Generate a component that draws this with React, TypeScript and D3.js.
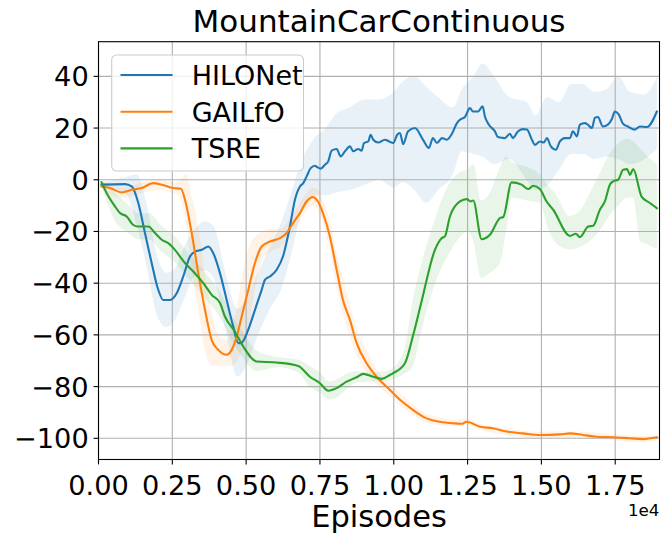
import React from 'react';
import * as d3 from 'd3';

const W = 672;
const H = 533;

const TITLE = 'MountainCarContinuous';
const X_LABEL = 'Episodes';
const X_OFFSET = '1e4';
const SERIES_NAMES = ['HILONet', 'GAILfO', 'TSRE'];
const SERIES_COLORS = ['#1f77b4', '#ff7f0e', '#2ca02c'];

const xTicks = [0, 2500, 5000, 7500, 10000, 12500, 15000, 17500];
const xTickLabels = ['0.00', '0.25', '0.50', '0.75', '1.00', '1.25', '1.50', '1.75'];
const yTicks = [-100, -80, -60, -40, -20, 0, 20, 40];
const yTickLabels = ['\u2212100', '\u221280', '\u221260', '\u221240', '\u221220', '0', '20', '40'];

// [episode, mean]
const hilonetMean: [number, number][] = [
  [100, -1.9], [900, -1.7], [1124, -2.6], [1348, -9], [1574, -20.6], [1801, -32.2], [2025, -42.6],
  [2194, -46.5], [2421, -46.5], [2648, -43.9], [2871, -37.4], [3098, -29.7], [3268, -27.8],
  [3494, -27.1], [3718, -25.8], [3887, -28.4], [4114, -36.1], [4341, -46.5], [4564, -56.8],
  [4734, -63.2], [4849, -63], [5072, -58], [5299, -50.3], [5526, -42.6], [5638, -38.7],
  [5807, -37.4], [6034, -34.8], [6247, -29.7], [6484, -18], [6653, -7.7], [6823, -2.6],
  [6935, -1.3], [7050, 1.3], [7185, 4.5], [7331, 5.4], [7409, 4.9], [7524, 4.3], [7669, 5.8],
  [7781, 7.1], [7896, 11.3], [8066, 11.9], [8201, 9], [8347, 11], [8516, 12.9], [8627, 11],
  [8797, 11.9], [8912, 11.2], [8990, 14.2], [9135, 14.8], [9217, 17.4], [9305, 15.5],
  [9474, 14.4], [9701, 15.5], [9847, 14.8], [9982, 14.2], [10117, 17.4], [10209, 18.1],
  [10320, 13.8], [10480, 18.7], [10717, 20], [10988, 15.5], [11191, 12.3], [11326, 16.1],
  [11462, 14.2], [11631, 16.1], [11801, 15.5], [11970, 17.8], [12140, 21.9], [12241, 23.2],
  [12410, 24.3], [12580, 27.7], [12681, 26.4], [12851, 26.4], [13009, 28.4], [13087, 24.5],
  [13222, 21.3], [13426, 18.7], [13527, 16.5], [13764, 16.1], [13933, 17.8], [14035, 16.1],
  [14204, 18.7], [14373, 19.6], [14509, 19.4], [14678, 15.5], [14780, 13.5], [14949, 14.8],
  [15084, 14.4], [15186, 16.1], [15321, 12.9], [15491, 11.6], [15626, 14.8], [15795, 16.1],
  [15965, 16.1], [16066, 18.7], [16202, 16.8], [16304, 21.3], [16473, 21.9], [16574, 21.3],
  [16710, 20], [16811, 23.9], [16913, 24.3], [17082, 20.6], [17252, 21.3], [17387, 23.5],
  [17489, 26.4], [17624, 25.2], [17760, 21.7], [17929, 20.6], [18166, 19.4], [18336, 20.6],
  [18573, 20.4], [18911, 26.4],
];

// [episode, lower, upper]
const hilonetBand: [number, number, number][] = [
  [100, -3, -1], [900, -5, 1], [1300, -18, 2], [1600, -32, -8], [2000, -53, -30],
  [2300, -57, -36], [2600, -54, -34], [2900, -46, -26], [3200, -38, -20], [3600, -35, -16],
  [3900, -38, -18], [4300, -58, -36], [4700, -76, -50], [5000, -72, -46], [5400, -60, -36],
  [5800, -50, -26], [6200, -42, -16], [6500, -30, -6], [6900, -12, 8], [7300, -6, 16],
  [7700, -6, 20], [8000, -5, 25], [8500, -4, 28], [9000, -2, 31], [9500, 0, 31],
  [10000, -3, 34], [10300, -1, 38], [10700, -4, 40], [11100, -9, 36], [11500, -4, 32],
  [12000, 2, 28], [12300, 11, 35], [12700, 10, 40], [13000, 9, 45], [13400, 6, 40],
  [13900, 8, 32], [14500, 0, 30], [14800, -4, 25], [15200, -2, 32], [15600, 4, 30],
  [16000, 10, 37], [16400, 10, 37], [16800, 8, 34], [17200, 9, 35], [17600, 8, 40],
  [18000, 6, 34], [18500, 8, 33], [18911, 12, 40],
];

const gailfoMean: [number, number][] = [
  [100, -2.6], [389, -3.2], [786, -4.9], [1124, -3.9], [1463, -3.2], [1856, -1.3], [2140, -1.9],
  [2533, -3.2], [2793, -3.5], [2929, -7.7], [3156, -20.6], [3379, -36.1], [3606, -50.3],
  [3833, -62], [4056, -65.8], [4341, -67.7], [4510, -65.8], [4679, -60.7], [4849, -52.9],
  [5072, -42.6], [5299, -32.2], [5526, -25.8], [5807, -23.9], [6145, -22.6], [6373, -20.6],
  [6586, -16.8], [6823, -12.9], [7050, -8.4], [7253, -6.7], [7432, -8.4], [7602, -12.9],
  [7839, -22], [8066, -34.8], [8279, -46.5], [8516, -54.2], [8743, -63.2], [9081, -71],
  [9420, -76.2], [9870, -81.3], [10250, -85.5], [10649, -89], [11113, -92.3], [11563, -93.6],
  [12004, -94.2], [12300, -94.4], [12467, -93.6], [12918, -95.5], [13358, -96.1],
  [13822, -97.4], [14374, -98.1], [14949, -98.7], [15626, -98.5], [15965, -98.1],
  [16405, -98.7], [16869, -99.4], [17421, -99.6], [17997, -100], [18437, -100.3], [18911, -99.6],
];

const gailfoBand: [number, number, number][] = [
  [100, -4, -1], [800, -7, -3], [1500, -5, -1], [2100, -4, 0], [2700, -6, -1], [2950, -16, 2],
  [3150, -34, -6], [3400, -52, -20], [3600, -66, -36], [3850, -72, -52], [4050, -72, -60],
  [4350, -72, -62], [4500, -72, -58], [4700, -70, -48], [4850, -66, -38], [5100, -56, -26],
  [5300, -42, -22], [5550, -31, -20], [5800, -28, -19], [6150, -26, -19], [6600, -20, -13],
  [7050, -12, -5], [7250, -10, -3], [7450, -12, -4], [7600, -17, -8], [7850, -28, -16],
  [8050, -41, -28], [8300, -53, -39], [8500, -60, -48], [8750, -68, -58], [9100, -75, -66],
  [9400, -79, -73], [9900, -84, -79], [10650, -91, -87], [11100, -94, -90.5], [11600, -95, -92],
  [12000, -95.4, -93], [12500, -95, -92.3], [12900, -96.7, -94.3], [13800, -98.6, -96.2],
  [14900, -99.9, -97.5], [15600, -99.7, -97.3], [16400, -99.9, -97.5], [17400, -100.8, -98.4],
  [18400, -101.5, -99.1], [18911, -100.8, -98.4],
];

const tsreMean: [number, number][] = [
  [100, -1], [278, -5.2], [559, -10.3], [728, -12.9], [955, -14.2], [1168, -17.4], [1348, -18.1],
  [1686, -18.1], [1913, -20.6], [2140, -23.2], [2363, -24.5], [2590, -27.1], [2760, -29.7],
  [2929, -32.2], [3210, -35.5], [3549, -40], [3833, -44.5], [4114, -47.7], [4283, -52.9],
  [4622, -58.8], [4903, -64.5], [5357, -70.3], [6034, -70.7], [6765, -72], [7161, -76.2],
  [7500, -78.7], [7781, -81.6], [8066, -80.6], [8404, -78.1], [8743, -76.4], [8966, -75.1],
  [9305, -76.2], [9589, -77], [9870, -75.5], [9982, -74.8], [10378, -71], [10659, -60],
  [10943, -47], [11394, -27.1], [11621, -22.6], [11733, -21.9], [11902, -14.2], [12241, -8.4],
  [12467, -7.5], [12603, -8.4], [12691, -8], [12976, -23], [13257, -21.3], [13595, -14.8],
  [13707, -14.4], [13991, -1], [14330, -1.9], [14553, -3.6], [14723, -2.3], [14949, -3.6],
  [15176, -8.4], [15400, -11.6], [15965, -21.7], [16168, -20.9], [16304, -22.2], [16585, -18.1],
  [16754, -17.8], [16981, -11.6], [17150, -8.4], [17319, -1.9], [17431, -0.6], [17600, 0],
  [17770, 3.9], [17905, 4.1], [17997, 1.9], [18109, 4.1], [18394, -6.5], [18675, -9], [18911, -11],
];

const tsreBand: [number, number, number][] = [
  [100, -2, 0], [300, -9, -2], [560, -16, -5], [950, -20, -9], [1350, -23, -13], [1700, -23, -13],
  [2150, -28, -18], [2600, -32, -22], [2950, -37, -27], [3550, -45, -35], [4100, -53, -43],
  [4600, -64, -54], [4900, -69, -59], [5350, -74, -66], [6050, -72.5, -68.5], [6750, -74.5, -69.5],
  [7150, -80, -72], [7500, -82.5, -74.5], [7800, -85, -78], [8100, -84, -77], [8400, -81, -75],
  [8750, -78.5, -74], [9300, -78, -74.5], [9850, -77.5, -73.5], [10350, -75, -66],
  [10650, -72, -46], [10900, -60, -34], [11400, -40, -15], [11900, -28, -1], [12250, -22, 3],
  [12500, -20, 4], [12700, -24, 6], [12950, -38, -8], [13250, -36, -5], [13600, -32, 5],
  [13800, -20, 9], [14000, -7, 7], [14500, -8, 5], [14950, -9, 2], [15200, -18, -2],
  [15450, -24, -5], [15950, -27, -14], [16300, -26, -12], [16600, -24, -6], [16950, -20, 2],
  [17300, -14, 10], [17600, -10, 14], [17900, -7, 16], [18100, -7, 15], [18350, -24, 12],
  [18600, -25, 9], [18911, -27, 6],
];

const seriesMeans = [hilonetMean, gailfoMean, tsreMean];
const seriesBands = [hilonetBand, gailfoBand, tsreBand];

const PLOT = { left: 98.5, right: 659.5, top: 41.7, bottom: 459.5 };
const X_DOMAIN: [number, number] = [0, 19000];
const Y_DOMAIN: [number, number] = [-108.2, 53.4];

const FONT = '"DejaVu Sans", sans-serif';

export default function App() {
  const x = d3.scaleLinear().domain(X_DOMAIN).range([PLOT.left, PLOT.right]);
  const y = d3.scaleLinear().domain(Y_DOMAIN).range([PLOT.bottom, PLOT.top]);

  const line = d3
    .line<[number, number]>()
    .x((d) => x(d[0]))
    .y((d) => y(d[1]))
    .curve(d3.curveMonotoneX);

  const area = d3
    .area<[number, number, number]>()
    .x((d) => x(d[0]))
    .y0((d) => y(d[1]))
    .y1((d) => y(d[2]))
    .curve(d3.curveMonotoneX);

  const tickLen = 4.9;
  const tickFont = 27.2;

  return (
    <svg
      width={W}
      height={H}
      viewBox={`0 0 ${W} ${H}`}
      style={{ position: 'absolute', left: 0, top: 0, background: '#fff' }}
      fontFamily={FONT}
    >
      <rect x={0} y={0} width={W} height={H} fill="#fff" />
      <defs>
        <clipPath id="plotclip">
          <rect x={PLOT.left} y={PLOT.top} width={PLOT.right - PLOT.left} height={PLOT.bottom - PLOT.top} />
        </clipPath>
      </defs>

      {/* bands */}
      <g clipPath="url(#plotclip)">
        {seriesBands.map((b, i) => (
          <path key={'band' + i} d={area(b) || ''} fill={SERIES_COLORS[i]} fillOpacity={0.1} stroke="none" />
        ))}
      </g>

      {/* grid */}
      <g stroke="#b0b0b0" strokeWidth={1.1}>
        {xTicks.map((t) => (
          <line key={'gx' + t} x1={x(t)} x2={x(t)} y1={PLOT.top} y2={PLOT.bottom} />
        ))}
        {yTicks.map((t) => (
          <line key={'gy' + t} x1={PLOT.left} x2={PLOT.right} y1={y(t)} y2={y(t)} />
        ))}
      </g>

      {/* lines */}
      <g clipPath="url(#plotclip)">
        {seriesMeans.map((m, i) => (
          <path
            key={'line' + i}
            d={line(m) || ''}
            fill="none"
            stroke={SERIES_COLORS[i]}
            strokeWidth={2.1}
            strokeLinejoin="round"
            strokeLinecap="square"
          />
        ))}
      </g>

      {/* spines */}
      <rect
        x={PLOT.left}
        y={PLOT.top}
        width={PLOT.right - PLOT.left}
        height={PLOT.bottom - PLOT.top}
        fill="none"
        stroke="#000"
        strokeWidth={1.1}
      />

      {/* x ticks */}
      <g>
        {xTicks.map((t, i) => (
          <g key={'xt' + t}>
            <line x1={x(t)} x2={x(t)} y1={PLOT.bottom} y2={PLOT.bottom + tickLen} stroke="#000" strokeWidth={1.1} />
            <text x={x(t)} y={495} textAnchor="middle" fontSize={tickFont} fill="#000">
              {xTickLabels[i]}
            </text>
          </g>
        ))}
      </g>

      {/* y ticks */}
      <g>
        {yTicks.map((t, i) => (
          <g key={'yt' + t}>
            <line x1={PLOT.left - tickLen} x2={PLOT.left} y1={y(t)} y2={y(t)} stroke="#000" strokeWidth={1.1} />
            <text
              x={PLOT.left - tickLen - 4.9}
              y={y(t) + 10}
              textAnchor="end"
              fontSize={tickFont}
              fill="#000"
            >
              {yTickLabels[i]}
            </text>
          </g>
        ))}
      </g>

      {/* title & labels */}
      <text x={(PLOT.left + PLOT.right) / 2} y={32} textAnchor="middle" fontSize={31} fill="#000">
        {TITLE}
      </text>
      <text x={(PLOT.left + PLOT.right) / 2} y={527} textAnchor="middle" fontSize={30.5} fill="#000">
        {X_LABEL}
      </text>
      <text x={PLOT.right} y={516} textAnchor="end" fontSize={16.7} fill="#000">
        {X_OFFSET}
      </text>

      {/* legend */}
      <g>
        <rect x={111.7} y={55} width={191.8} height={116} rx={5} ry={5} fill="#fff" fillOpacity={0.8} stroke="#cccccc" strokeWidth={1.1} />
        {SERIES_NAMES.map((name, i) => {
          const ly = 75 + i * 36.7;
          return (
            <g key={'lg' + name}>
              <line x1={120.5} x2={172.5} y1={ly} y2={ly} stroke={SERIES_COLORS[i]} strokeWidth={2.1} />
              <text x={191.7} y={ly + 10} fontSize={27} fill="#000">
                {name}
              </text>
            </g>
          );
        })}
      </g>
    </svg>
  );
}
